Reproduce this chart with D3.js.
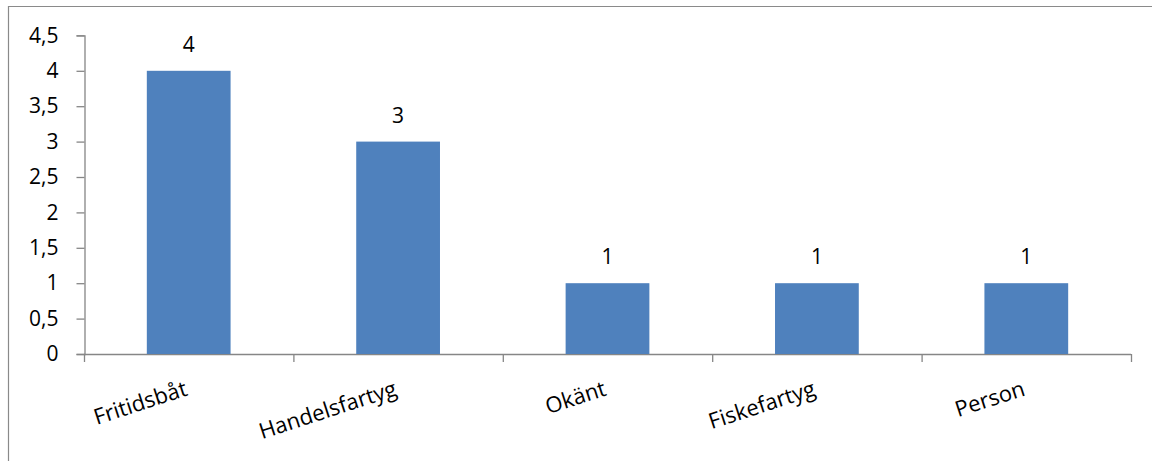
<!DOCTYPE html>
<html>
<head>
<meta charset="utf-8">
<script src="https://cdn.jsdelivr.net/npm/d3@7"></script>
<style>
  html, body { margin: 0; padding: 0; background: #fff; }
  svg { display: block; }
  text { font-family: "Open Sans", Lato, sans-serif; fill: #000; }
</style>
</head>
<body>
<svg id="chart" width="1152" height="461"></svg>
<script>
// Incidents by category
const categories = ["Fritidsbåt", "Handelsfartyg", "Okänt", "Fiskefartyg", "Person"];
const counts = [4, 3, 1, 1, 1];
const yTicks = [0, 0.5, 1, 1.5, 2, 2.5, 3, 3.5, 4, 4.5];
const yTickLabels = ["0", "0,5", "1", "1,5", "2", "2,5", "3", "3,5", "4", "4,5"];

const W = 1152, H = 461;
const plot = { left: 84, right: 1131, top: 35.4, bottom: 354 };
const axisColor = "#868686";
const barColor = "#4F81BD";
const fontFamily = "'Open Sans', Lato, sans-serif";
const fontSize = 21;
const catFontSize = 22;

const svg = d3.select("#chart");

// chart frame (top and left edges visible)
svg.append("path")
  .attr("d", `M8.5,${H} V6.5 H${W}`)
  .attr("fill", "none")
  .attr("stroke", "#8a8a8a")
  .attr("stroke-width", 1.2);

const x = d3.scaleBand()
  .domain(categories)
  .range([plot.left, plot.right])
  .paddingInner(0.6)
  .paddingOuter(0.3);

const y = d3.scaleLinear()
  .domain([0, 4.5])
  .range([plot.bottom, plot.top]);

// y axis
const yAxis = d3.axisLeft(y)
  .tickValues(yTicks)
  .tickFormat((d, i) => yTickLabels[i])
  .tickSize(8)
  .tickPadding(18);

const gy = svg.append("g")
  .attr("transform", `translate(${plot.left + 0.5},0)`)
  .call(yAxis);
gy.select(".domain").attr("stroke", axisColor).attr("stroke-width", 1.3);
gy.selectAll(".tick line").attr("stroke", axisColor).attr("stroke-width", 1.3);
gy.selectAll(".tick text")
  .attr("font-size", fontSize)
  .attr("font-family", fontFamily)
  .attr("fill", "#000");

// x axis: baseline with ticks at category boundaries
const boundaries = d3.range(categories.length + 1).map(i => plot.left + i * (plot.right - plot.left) / categories.length);
const gx = svg.append("g");
gx.append("line")
  .attr("x1", plot.left).attr("x2", plot.right)
  .attr("y1", y(0) + 0.5).attr("y2", y(0) + 0.5)
  .attr("stroke", axisColor).attr("stroke-width", 1.3);
gx.selectAll("line.tk")
  .data(boundaries)
  .join("line")
  .attr("class", "tk")
  .attr("x1", d => d + 0.5).attr("x2", d => d + 0.5)
  .attr("y1", y(0)).attr("y2", y(0) + 8)
  .attr("stroke", axisColor).attr("stroke-width", 1.3);

// bars
svg.append("g")
  .selectAll("rect")
  .data(categories)
  .join("rect")
  .attr("x", d => x(d))
  .attr("y", (d, i) => y(counts[i]))
  .attr("width", x.bandwidth())
  .attr("height", (d, i) => y(0) - y(counts[i]))
  .attr("fill", barColor);

// value labels
svg.append("g")
  .selectAll("text")
  .data(categories)
  .join("text")
  .attr("x", d => x(d) + x.bandwidth() / 2)
  .attr("y", (d, i) => y(counts[i]) - 19)
  .attr("text-anchor", "middle")
  .attr("font-size", fontSize)
  .text((d, i) => counts[i]);

// slanted category labels, ending under each bar's centre
svg.append("g")
  .selectAll("text")
  .data(categories)
  .join("text")
  .attr("transform", d => `translate(${x(d) + x.bandwidth() / 2},${y(0) + 41}) rotate(-18)`)
  .attr("text-anchor", "end")
  .attr("font-size", catFontSize)
  .text(d => d);
</script>
</body>
</html>
